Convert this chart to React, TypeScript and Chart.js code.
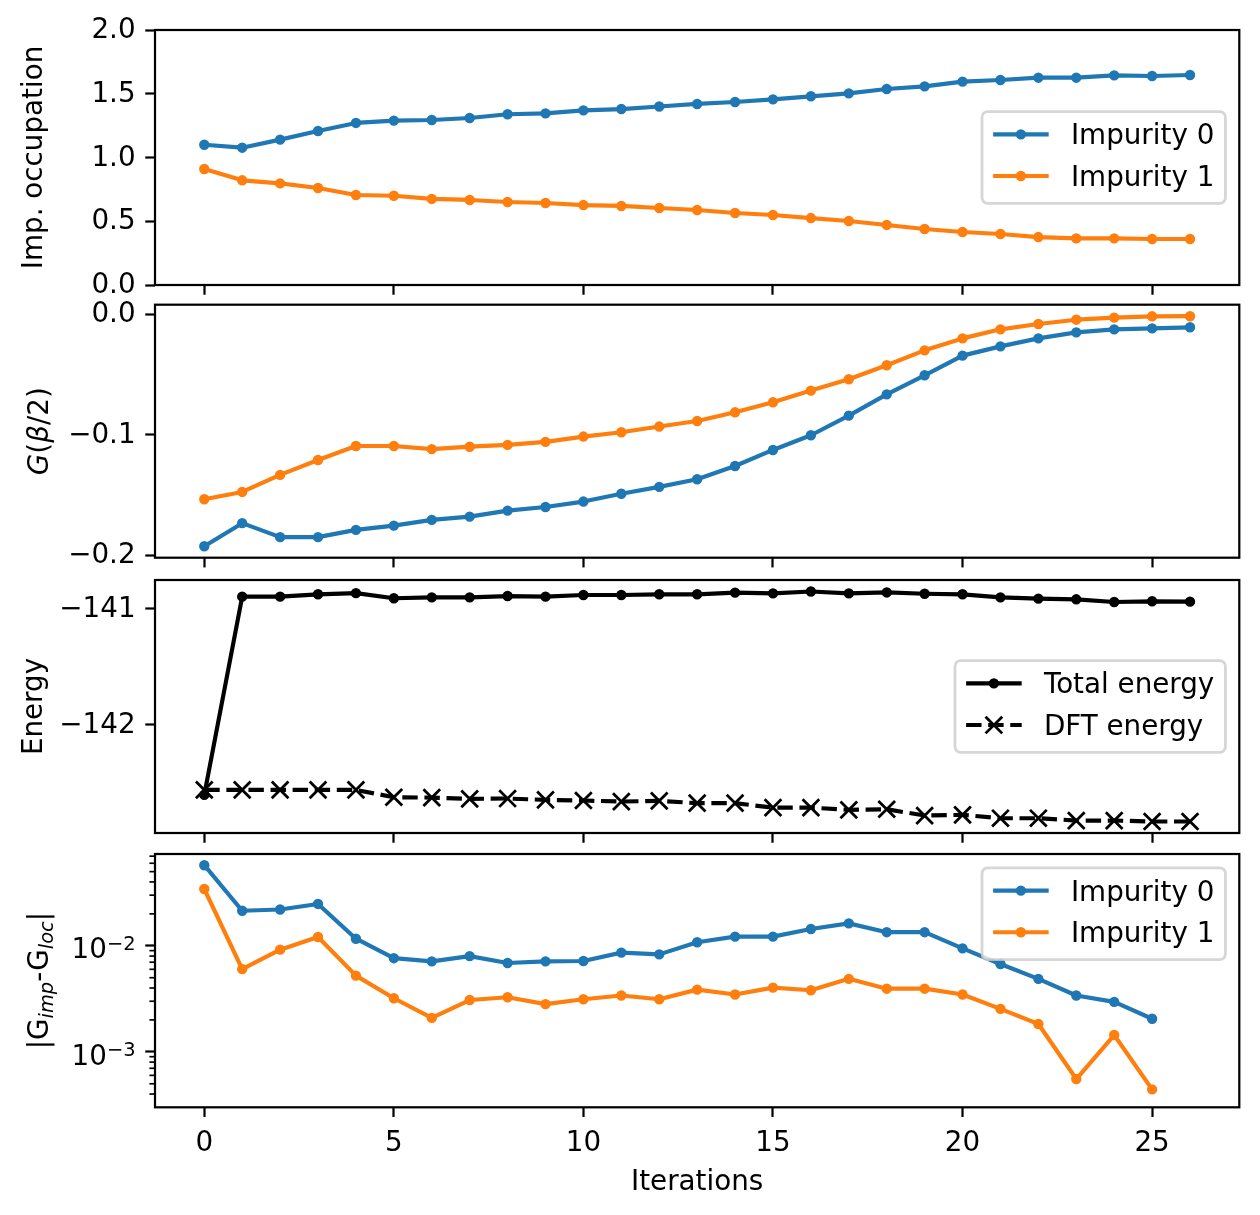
import { useEffect, useRef } from 'react';
import { Chart, registerables } from 'chart.js';

Chart.register(...registerables);

// ---- data -------------------------------------------------------------
const iterations = [0, 1, 2, 3, 4, 5, 6, 7, 8, 9, 10, 11, 12, 13, 14, 15, 16, 17, 18, 19, 20, 21, 22, 23, 24, 25, 26];
const residualIterations = [0, 1, 2, 3, 4, 5, 6, 7, 8, 9, 10, 11, 12, 13, 14, 15, 16, 17, 18, 19, 20, 21, 22, 23, 24, 25];

const occupationImp0 = [1.10, 1.077, 1.14, 1.208, 1.271, 1.289, 1.294, 1.31, 1.339, 1.346, 1.37, 1.38, 1.40, 1.42, 1.435, 1.456, 1.48, 1.503, 1.537, 1.558, 1.595, 1.608, 1.626, 1.626, 1.644, 1.639, 1.647];
const occupationImp1 = [0.91, 0.821, 0.797, 0.761, 0.706, 0.70, 0.675, 0.667, 0.651, 0.643, 0.627, 0.62, 0.604, 0.588, 0.565, 0.549, 0.525, 0.502, 0.471, 0.439, 0.416, 0.40, 0.376, 0.366, 0.366, 0.361, 0.361];

const gBetaImp0 = [-0.1925, -0.1734, -0.185, -0.185, -0.179, -0.1754, -0.1707, -0.168, -0.163, -0.160, -0.1555, -0.149, -0.1433, -0.137, -0.126, -0.1127, -0.1005, -0.0842, -0.0666, -0.0508, -0.0345, -0.0268, -0.0202, -0.0152, -0.0127, -0.0119, -0.011];
const gBetaImp1 = [-0.1536, -0.1475, -0.1334, -0.121, -0.1094, -0.1094, -0.112, -0.110, -0.1085, -0.106, -0.1016, -0.098, -0.0933, -0.0887, -0.0815, -0.0732, -0.0635, -0.0541, -0.0425, -0.0301, -0.0202, -0.0127, -0.0083, -0.0047, -0.003, -0.0019, -0.0018];

const totalEnergy = [-142.60, -140.90, -140.90, -140.88, -140.87, -140.914, -140.906, -140.906, -140.895, -140.90, -140.886, -140.886, -140.88, -140.88, -140.866, -140.872, -140.856, -140.872, -140.864, -140.875, -140.88, -140.906, -140.917, -140.923, -140.946, -140.94, -140.943];
const dftEnergy = [-142.557, -142.557, -142.557, -142.557, -142.557, -142.62, -142.623, -142.634, -142.631, -142.643, -142.648, -142.657, -142.651, -142.671, -142.671, -142.709, -142.709, -142.728, -142.723, -142.777, -142.771, -142.80, -142.80, -142.82, -142.82, -142.828, -142.828];

const residualImp0 = [0.0575, 0.0214, 0.022, 0.0248, 0.01166, 0.00764, 0.00713, 0.00798, 0.00688, 0.00713, 0.00718, 0.00862, 0.0083, 0.0108, 0.0122, 0.0122, 0.0144, 0.01626, 0.01343, 0.01343, 0.00945, 0.00673, 0.00488, 0.0034, 0.00296, 0.00205];
const residualImp1 = [0.0343, 0.00603, 0.00919, 0.0121, 0.00523, 0.0032, 0.00209, 0.00308, 0.00327, 0.00282, 0.00313, 0.0034, 0.00313, 0.00386, 0.00347, 0.00403, 0.00381, 0.00488, 0.00394, 0.00394, 0.00347, 0.00254, 0.00183, 0.000554, 0.00144, 0.000443];

// ---- ticks ------------------------------------------------------------
const iterationTicks = [0, 5, 10, 15, 20, 25];
const occupationTicks = [0, 0.5, 1, 1.5, 2];
const gBetaTicks = [-0.2, -0.1, 0];
const energyTicks = [-142, -141];
const residualMajorTicks = [1e-3, 1e-2];
const residualMinorTicks = [4e-4, 5e-4, 6e-4, 7e-4, 8e-4, 9e-4, 2e-3, 3e-3, 4e-3, 5e-3, 6e-3, 7e-3, 8e-3, 9e-3, 2e-2, 3e-2, 4e-2, 5e-2, 6e-2, 7e-2, 8e-2, 9e-2];

// ---- styling ----------------------------------------------------------
const PT = 200 / 72;
const FONT = 10 * PT;
const SUB_FONT = 0.7 * FONT;
const CAP = 0.729 * FONT;
const FAMILY = '"DejaVu Sans"';
const LINE_W = 1.5 * PT;
const SPINE_W = 0.8 * PT;
const MAJOR_LEN = 3.5 * PT;
const MINOR_LEN = 2 * PT;
const MINOR_W = 0.6 * PT;
const TICK_PAD = 3.5 * PT;
const Y_LABEL_SHIFT = 1;
const DOT_R = 4.2;
const DOT_EDGE = 2.0;
const CROSS_R = 11.8;
const DASH = [3.7 * LINE_W, 1.6 * LINE_W];
const BLUE = '#1f77b4';
const ORANGE = '#ff7f0e';
const BLACK = '#000000';

const FIG_W = 1260;
const FIG_H = 1215;
const AXES_LEFT = 155;
const AXES_RIGHT = 1239.3;
const PANELS: [number, number][] = [
  [30, 285],
  [304.7, 557.7],
  [580, 833],
  [854, 1107.3],
];

type Part = { t: string; italic?: boolean; sub?: boolean };

const fontStr = (size: number, italic = false) => `${italic ? 'italic ' : ''}${size}px ${FAMILY}`;
const minus = (s: string) => s.replace('-', '\u2212');

// axis limits with a 5% margin on each side (log-space for log axes)
function padded(values: number[], log = false): [number, number] {
  const v = log ? values.map((x) => Math.log10(x)) : values;
  const lo = Math.min(...v);
  const hi = Math.max(...v);
  const m = (hi - lo) * 0.05;
  return log ? [10 ** (lo - m), 10 ** (hi + m)] : [lo - m, hi + m];
}

const points = (xs: number[], ys: number[]) => xs.map((x, i) => ({ x, y: ys[i] }));

function series(label: string, xs: number[], ys: number[], color: string, order: number, extra: any = {}) {
  return {
    label,
    data: points(xs, ys),
    borderColor: color,
    backgroundColor: color,
    borderWidth: LINE_W,
    borderJoinStyle: 'round',
    borderCapStyle: 'butt',
    tension: 0,
    fill: false,
    pointStyle: 'circle',
    pointRadius: DOT_R,
    pointBorderWidth: DOT_EDGE,
    pointBackgroundColor: color,
    pointBorderColor: color,
    order,
    ...extra,
  };
}

function drawVerticalTitle(ctx: CanvasRenderingContext2D, parts: Part[], baselineX: number, centerY: number) {
  ctx.save();
  ctx.fillStyle = BLACK;
  ctx.textBaseline = 'alphabetic';
  ctx.textAlign = 'left';
  const widths = parts.map((p) => {
    ctx.font = fontStr(p.sub ? SUB_FONT : FONT, p.italic);
    return ctx.measureText(p.t).width;
  });
  const total = widths.reduce((a, b) => a + b, 0);
  ctx.translate(baselineX, centerY);
  ctx.rotate(-Math.PI / 2);
  let u = -total / 2;
  parts.forEach((p, i) => {
    ctx.font = fontStr(p.sub ? SUB_FONT : FONT, p.italic);
    ctx.fillText(p.t, u, p.sub ? 5 : 0);
    u += widths[i];
  });
  ctx.restore();
}

function drawMarker(ctx: CanvasRenderingContext2D, style: string, x: number, y: number, color: string) {
  ctx.save();
  ctx.setLineDash([]);
  ctx.strokeStyle = color;
  ctx.fillStyle = color;
  if (style === 'crossRot') {
    const h = CROSS_R * Math.SQRT1_2;
    ctx.lineWidth = PT;
    ctx.beginPath();
    ctx.moveTo(x - h, y - h);
    ctx.lineTo(x + h, y + h);
    ctx.moveTo(x - h, y + h);
    ctx.lineTo(x + h, y - h);
    ctx.stroke();
  } else {
    ctx.lineWidth = DOT_EDGE;
    ctx.beginPath();
    ctx.arc(x, y, DOT_R, 0, Math.PI * 2);
    ctx.fill();
    ctx.stroke();
  }
  ctx.restore();
}

function drawLegend(chart: any, loc: string) {
  const { ctx, chartArea: a } = chart;
  const items = chart.data.datasets;
  ctx.save();
  ctx.font = fontStr(FONT);
  const textW = Math.max(...items.map((d: any) => ctx.measureText(d.label).width));
  const pad = 0.4 * FONT;
  const handleLen = 2 * FONT;
  const gap = 0.8 * FONT;
  const rowH = FONT;
  const spacing = 0.5 * FONT;
  const w = pad * 2 + handleLen + gap + textW;
  const h = pad * 2 + items.length * rowH + (items.length - 1) * spacing;
  const left = a.right - 0.5 * FONT - w;
  const top = loc === 'upper right' ? a.top + 0.5 * FONT : (a.top + a.bottom) / 2 - h / 2;

  ctx.beginPath();
  ctx.roundRect(left, top, w, h, 0.2 * FONT);
  ctx.fillStyle = 'rgba(255,255,255,0.8)';
  ctx.fill();
  ctx.lineWidth = PT;
  ctx.strokeStyle = 'rgba(204,204,204,0.8)';
  ctx.stroke();

  items.forEach((d: any, i: number) => {
    const cy = top + pad + rowH / 2 + i * (rowH + spacing) - 2.3;
    const hx = left + pad;
    ctx.save();
    ctx.beginPath();
    ctx.setLineDash(d.borderDash || []);
    ctx.lineWidth = d.borderWidth;
    ctx.strokeStyle = d.borderColor;
    ctx.lineCap = 'butt';
    ctx.moveTo(hx, cy);
    ctx.lineTo(hx + handleLen, cy);
    ctx.stroke();
    ctx.restore();
    drawMarker(ctx, d.pointStyle, hx + handleLen / 2, cy, d.borderColor);
    ctx.fillStyle = BLACK;
    ctx.font = fontStr(FONT);
    ctx.textBaseline = 'alphabetic';
    ctx.textAlign = 'left';
    ctx.fillText(d.label, hx + handleLen + gap, cy + CAP / 2);
  });
  ctx.restore();
}

type Decor = {
  title: Part[];
  titleX: number;
  legend?: string;
  logLabels?: boolean;
};

function makeDecor(cfg: Decor) {
  return {
    id: 'panelDecor',
    afterDraw(chart: any) {
      const { ctx, chartArea: a } = chart;
      if (cfg.logLabels) {
        const ys = chart.scales.y;
        ctx.save();
        ctx.strokeStyle = BLACK;
        ctx.lineWidth = MINOR_W;
        residualMinorTicks.forEach((v) => {
          if (v < ys.min || v > ys.max) return;
          const y = ys.getPixelForValue(v);
          ctx.beginPath();
          ctx.moveTo(a.left - MINOR_LEN, y);
          ctx.lineTo(a.left, y);
          ctx.stroke();
        });
        ctx.fillStyle = BLACK;
        ctx.textBaseline = 'alphabetic';
        ctx.textAlign = 'left';
        residualMajorTicks.forEach((v) => {
          const y = ys.getPixelForValue(v) + Y_LABEL_SHIFT;
          const base = '10';
          const sup = minus(String(Math.round(Math.log10(v))));
          ctx.font = fontStr(FONT);
          const wb = ctx.measureText(base).width;
          ctx.font = fontStr(SUB_FONT);
          const ws = ctx.measureText(sup).width;
          const x0 = a.left - MAJOR_LEN - TICK_PAD - wb - ws;
          ctx.font = fontStr(FONT);
          ctx.fillText(base, x0, y + 11.7);
          ctx.font = fontStr(SUB_FONT);
          ctx.fillText(sup, x0 + wb, y + 3.2);
        });
        ctx.restore();
      }
      ctx.save();
      ctx.strokeStyle = BLACK;
      ctx.lineWidth = SPINE_W;
      ctx.strokeRect(a.left, a.top, a.right - a.left, a.bottom - a.top);
      ctx.restore();
      drawVerticalTitle(ctx, cfg.title, cfg.titleX, (a.top + a.bottom) / 2);
      if (cfg.legend) drawLegend(chart, cfg.legend);
    },
  };
}

const tickFont = { family: FAMILY, size: FONT };
const axisGrid = {
  drawOnChartArea: false,
  drawTicks: true,
  tickLength: MAJOR_LEN,
  tickWidth: SPINE_W,
  tickColor: BLACK,
};

function linearY(range: [number, number], ticks: number[], fmt: (v: number) => string) {
  return {
    type: 'linear',
    position: 'left',
    min: range[0],
    max: range[1],
    afterBuildTicks: (s: any) => {
      s.ticks = ticks.map((value) => ({ value }));
    },
    afterFit: (s: any) => {
      s.width = AXES_LEFT;
    },
    grid: axisGrid,
    border: { display: false },
    ticks: {
      color: BLACK,
      font: tickFont,
      padding: TICK_PAD,
      labelOffset: Y_LABEL_SHIFT,
      autoSkip: false,
      callback: (v: number) => fmt(v),
    },
  };
}

function buildConfig(panel: number, datasets: any[], yScale: any, decor: Decor) {
  const [top, bottom] = PANELS[panel];
  const last = panel === PANELS.length - 1;
  const xAxisH = last ? FIG_H - bottom - 7.7 : MAJOR_LEN + 4;
  const [xMin, xMax] = padded(iterations);
  return {
    type: 'line',
    data: { datasets },
    options: {
      responsive: false,
      animation: false,
      events: [],
      layout: { padding: { top, left: 0, right: FIG_W - AXES_RIGHT, bottom: FIG_H - bottom - xAxisH } },
      plugins: { legend: { display: false }, tooltip: { enabled: false }, title: { display: false } },
      scales: {
        x: {
          type: 'linear',
          position: 'bottom',
          min: xMin,
          max: xMax,
          afterBuildTicks: (s: any) => {
            s.ticks = iterationTicks.map((value) => ({ value }));
          },
          afterFit: (s: any) => {
            s.height = xAxisH;
          },
          grid: axisGrid,
          border: { display: false },
          ticks: {
            display: last,
            color: BLACK,
            font: tickFont,
            padding: TICK_PAD,
            maxRotation: 0,
            autoSkip: false,
            callback: (v: number) => String(v),
          },
          title: {
            display: last,
            text: 'Iterations',
            color: BLACK,
            font: tickFont,
            padding: { top: 0, bottom: 7.8 },
          },
        },
        y: yScale,
      },
    },
    plugins: [makeDecor(decor)],
  };
}

function configs() {
  const occupation = buildConfig(
    0,
    [
      series('Impurity 0', iterations, occupationImp0, BLUE, 1),
      series('Impurity 1', iterations, occupationImp1, ORANGE, 0),
    ],
    linearY([0, 2], occupationTicks, (v) => v.toFixed(1)),
    { title: [{ t: 'Imp. occupation' }], titleX: 41.6, legend: 'center right' },
  );

  const gBeta = buildConfig(
    1,
    [
      series('Impurity 0', iterations, gBetaImp0, BLUE, 1),
      series('Impurity 1', iterations, gBetaImp1, ORANGE, 0),
    ],
    linearY(padded([...gBetaImp0, ...gBetaImp1]), gBetaTicks, (v) => minus(v.toFixed(1))),
    {
      title: [{ t: 'G', italic: true }, { t: '(' }, { t: '\u03b2', italic: true }, { t: '/2)' }],
      titleX: 48,
    },
  );

  const energy = buildConfig(
    2,
    [
      series('Total energy', iterations, totalEnergy, BLACK, 1),
      series('DFT energy', iterations, dftEnergy, BLACK, 0, {
        borderDash: DASH,
        pointStyle: 'crossRot',
        pointRadius: CROSS_R,
        pointBorderWidth: PT,
      }),
    ],
    linearY(padded([...totalEnergy, ...dftEnergy]), energyTicks, (v) => minus(String(Math.round(v)))),
    { title: [{ t: 'Energy' }], titleX: 41.6, legend: 'center right' },
  );

  const [rMin, rMax] = padded([...residualImp0, ...residualImp1], true);
  const residual = buildConfig(
    3,
    [
      series('Impurity 0', residualIterations, residualImp0, BLUE, 1),
      series('Impurity 1', residualIterations, residualImp1, ORANGE, 0),
    ],
    {
      type: 'logarithmic',
      position: 'left',
      min: rMin,
      max: rMax,
      afterBuildTicks: (s: any) => {
        s.ticks = residualMajorTicks.map((value) => ({ value }));
      },
      afterFit: (s: any) => {
        s.width = AXES_LEFT;
      },
      grid: axisGrid,
      border: { display: false },
      ticks: { display: false },
    },
    {
      title: [
        { t: '|G' },
        { t: 'imp', italic: true, sub: true },
        { t: '-G' },
        { t: 'loc', italic: true, sub: true },
        { t: '|' },
      ],
      titleX: 48,
      legend: 'upper right',
      logLabels: true,
    },
  );

  return [occupation, gBeta, energy, residual];
}

export default function App() {
  const refs = [useRef<HTMLCanvasElement>(null), useRef<HTMLCanvasElement>(null), useRef<HTMLCanvasElement>(null), useRef<HTMLCanvasElement>(null)];

  useEffect(() => {
    const charts = configs().map((cfg, i) => new Chart(refs[i].current as HTMLCanvasElement, cfg as any));
    return () => charts.forEach((c) => c.destroy());
  }, []);

  return (
    <div style={{ position: 'absolute', left: 0, top: 0, width: FIG_W, height: FIG_H, background: '#ffffff' }}>
      {refs.map((r, i) => (
        <canvas
          key={i}
          ref={r}
          width={FIG_W}
          height={FIG_H}
          style={{ position: 'absolute', left: 0, top: 0, width: FIG_W, height: FIG_H }}
        />
      ))}
    </div>
  );
}
